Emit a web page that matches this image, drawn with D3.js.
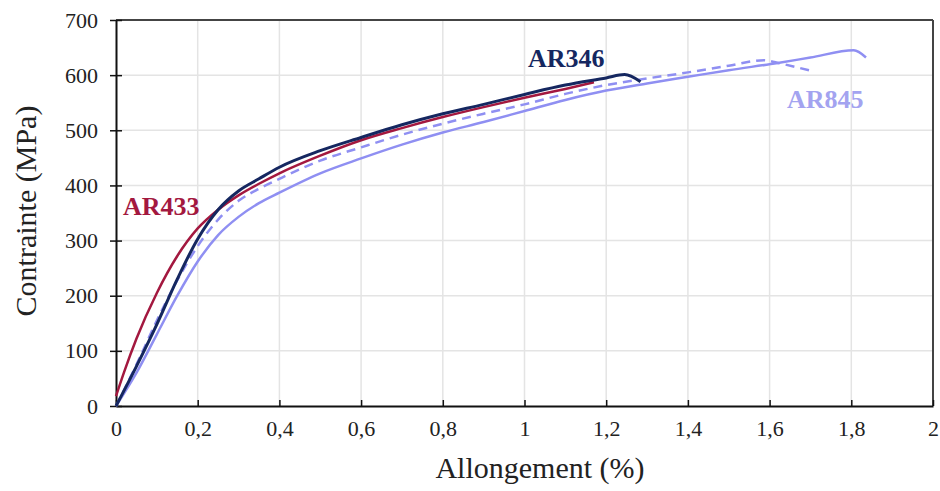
<!DOCTYPE html>
<html><head><meta charset="utf-8">
<script src="https://cdn.jsdelivr.net/npm/d3@7"></script>
<style>
body{margin:0;background:#fff;}
svg{display:block;}
text{font-family:"Liberation Serif","Times New Roman",serif;}
</style></head>
<body><svg id="chart" width="940" height="491"></svg>
<script>
const xTicks = [0,0.2,0.4,0.6,0.8,1,1.2,1.4,1.6,1.8,2];
const yTicks = [0,100,200,300,400,500,600,700];
const xTickLabels = ["0","0,2","0,4","0,6","0,8","1","1,2","1,4","1,6","1,8","2"];

const ar845Solid = [[0,0],[0.05,60],[0.1,130],[0.15,200],[0.2,262],[0.25,310],[0.3,343],[0.35,368],[0.4,387],[0.5,422],[0.6,449],[0.7,474],[0.8,496],[0.9,515],[1.0,535],[1.1,555],[1.2,572],[1.3,585],[1.4,597],[1.5,609],[1.62,622],[1.7,632],[1.806,645],[1.836,632]];
const ar845Dashed = [[0,0],[0.05,75],[0.1,155],[0.15,228],[0.2,290],[0.25,338],[0.3,372],[0.35,394],[0.4,412],[0.5,445],[0.6,469],[0.7,492],[0.8,512],[0.9,530],[1.0,547],[1.1,566],[1.2,582],[1.3,594],[1.4,605],[1.5,617],[1.586,627],[1.627,621],[1.706,607]];
const ar433 = [[0,18],[0.02,62],[0.05,122],[0.1,205],[0.15,272],[0.2,322],[0.25,356],[0.3,382],[0.35,403],[0.4,422],[0.5,454],[0.6,482],[0.7,504],[0.8,524],[0.9,542],[1.0,559],[1.1,575],[1.17,587]];
const ar346 = [[0,0],[0.05,72],[0.1,148],[0.15,230],[0.2,303],[0.25,356],[0.3,390],[0.35,412],[0.4,433],[0.5,463],[0.6,487],[0.7,510],[0.8,530],[0.9,547],[1.0,565],[1.1,582],[1.2,595],[1.245,601],[1.284,588]];

const svg = d3.select("#chart");
const m = {l:116, t:20, r:7, b:85};
const W = 940 - m.l - m.r, H = 491 - m.t - m.b;
const x = d3.scaleLinear().domain([0,2]).range([0,W]);
const y = d3.scaleLinear().domain([0,700]).range([H,0]);
const g = svg.append("g").attr("transform",`translate(${m.l},${m.t})`);

// grid
g.append("g").selectAll("line").data(xTicks.slice(1,-1)).join("line")
  .attr("x1",d=>x(d)).attr("x2",d=>x(d)).attr("y1",0).attr("y2",H)
  .attr("stroke","#e4e4e4").attr("stroke-width",1.5);
g.append("g").selectAll("line").data(yTicks.slice(1,-1)).join("line")
  .attr("x1",0).attr("x2",W).attr("y1",d=>y(d)).attr("y2",d=>y(d))
  .attr("stroke","#e4e4e4").attr("stroke-width",1.5);

// frame top/right
g.append("line").attr("x1",0).attr("x2",W).attr("y1",0).attr("y2",0).attr("stroke","#444").attr("stroke-width",2);
g.append("line").attr("x1",W).attr("x2",W).attr("y1",0).attr("y2",H).attr("stroke","#444").attr("stroke-width",2);

// axes
const xAxis = d3.axisBottom(x).tickValues(xTicks).tickFormat((d,i)=>xTickLabels[i]).tickSizeInner(-6).tickSizeOuter(0).tickPadding(14);
const yAxis = d3.axisLeft(y).tickValues(yTicks).tickSizeInner(6).tickSizeOuter(0).tickPadding(12);
const gx = g.append("g").attr("transform",`translate(0,${H})`).call(xAxis);
const gy = g.append("g").call(yAxis);
[gx,gy].forEach(a=>{
  a.attr("font-family","Liberation Serif");
  a.select(".domain").attr("stroke","#111").attr("stroke-width",2);
  a.selectAll(".tick line").attr("stroke","#111").attr("stroke-width",1.5);
  a.selectAll("text").attr("font-size",22).attr("fill","#222").style("font-family","Liberation Serif");
});
gy.selectAll(".tick line").attr("x1",-6).attr("x2",6);

// lines
const line = d3.line().x(d=>x(d[0])).y(d=>y(d[1])).curve(d3.curveMonotoneX);
g.append("path").datum(ar845Solid).attr("d",line).attr("fill","none").attr("stroke","#8f8ff2").attr("stroke-width",2.5);
g.append("path").datum(ar845Dashed).attr("d",line).attr("fill","none").attr("stroke","#8f8ff2").attr("stroke-width",2.5).attr("stroke-dasharray","9,6");
g.append("path").datum(ar433).attr("d",line).attr("fill","none").attr("stroke","#a3183f").attr("stroke-width",2.5);
g.append("path").datum(ar346).attr("d",line).attr("fill","none").attr("stroke","#152760").attr("stroke-width",3);

// series labels
svg.append("text").attr("x",123).attr("y",215).text("AR433").attr("font-size",26).attr("font-weight","bold").attr("fill","#a3183f");
svg.append("text").attr("x",528).attr("y",67).text("AR346").attr("font-size",26).attr("font-weight","bold").attr("fill","#152760");
svg.append("text").attr("x",787).attr("y",108).text("AR845").attr("font-size",26).attr("font-weight","bold").attr("fill","#a3a3f0");

// axis titles
svg.append("text").attr("x",540).attr("y",478).attr("text-anchor","middle").attr("font-size",30).attr("fill","#222").text("Allongement (%)");
svg.append("text").attr("transform",`translate(36,211) rotate(-90)`).attr("text-anchor","middle").attr("font-size",30).attr("fill","#222").text("Contrainte (MPa)");
</script></body></html>
